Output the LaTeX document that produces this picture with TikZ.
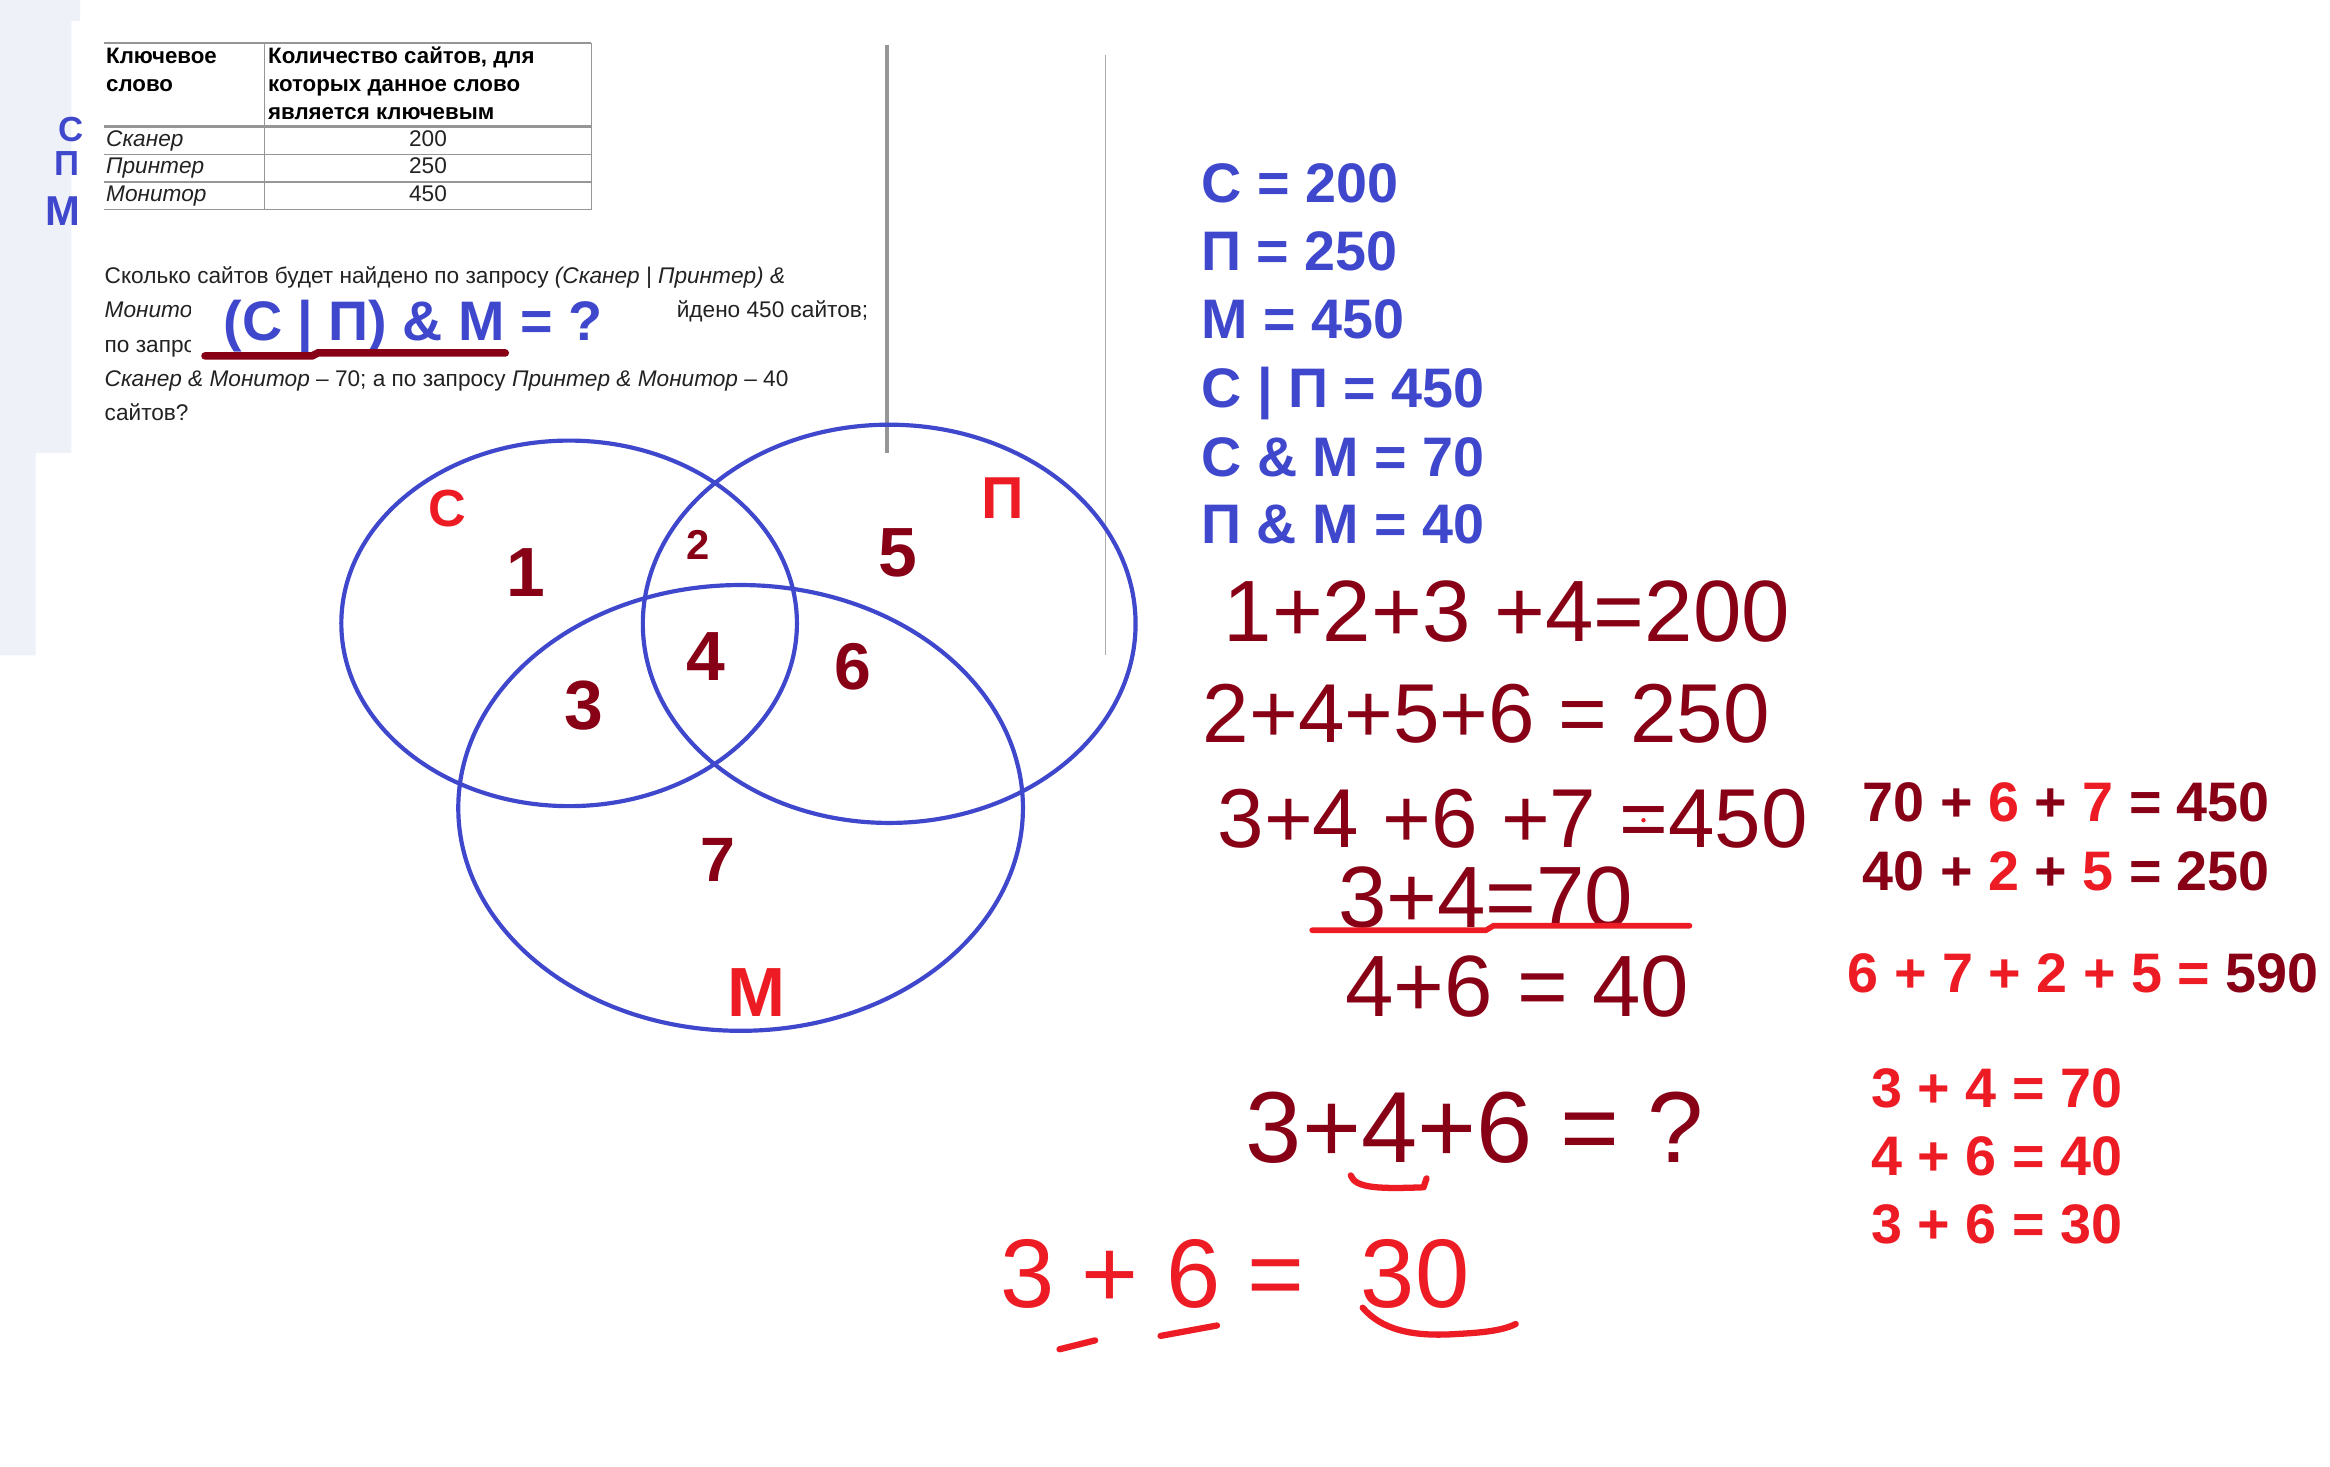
\documentclass[tikz,border=0pt]{standalone}
\usepackage{fontspec}
\setmainfont{Liberation Sans}
\newcommand{\fsz}[1]{\fontsize{#1}{#1}\selectfont}
\definecolor{indigo}{RGB}{63,72,204}
\definecolor{darkred}{RGB}{136,0,21}
\definecolor{brightred}{RGB}{237,28,36}
\definecolor{panel}{RGB}{238,241,247}
\definecolor{rule}{RGB}{150,150,150}
\definecolor{txt}{RGB}{34,34,34}

\begin{document}
\begin{tikzpicture}[x=0.015cm, y=-0.015cm,
  every node/.style={inner sep=0pt, anchor=base west},
  plain/.style={font=\fsz{6.5}, text=txt},
  head/.style={font=\fsz{6.4}\bfseries, text=black},
  calc/.style={font=\fsz{16}\bfseries},
  eqn/.style={font=\fsz{25}, text=darkred, text height=18pt, text depth=0pt},
  vnum/.style={anchor=center, font=\bfseries, text=darkred},
  venn/.style={indigo, line width=1.2pt},
  penline/.style={line width=1.8pt, line cap=round, line join=round}
]
\useasboundingbox (0,0) rectangle (1568,987);
\fill[white] (0,0) rectangle (1568,987);
\fill[panel] (0,0) -- (54,0) -- (54,14) -- (48,14) -- (48,305) -- (24,305) -- (24,441) -- (0,441) -- cycle;

% table
\draw[rule, line width=0.4pt] (70,29) -- (398,29) (70,104) -- (398,104) (70,122.5) -- (398,122.5)
  (70,141) -- (398,141) (178,29) -- (178,141) (398,29) -- (398,141);
\draw[rule, line width=0.9pt] (70,85) -- (398,85);
\node[head] (h1) at (71,43) {Ключевое};
\node[head] (h2) at (71,61.7) {слово};
\node[head] (h3) at (180,43) {Количество сайтов, для};
\node[head] (h4) at (180,61.7) {которых данное слово};
\node[head] (h5) at (180,80.4) {является ключевым};
\foreach \w/\n/\y [count=\i] in {Сканер/200/98.5, Принтер/250/117, Монитор/450/135.5} {
  \node[plain, font=\fsz{6.5}\itshape] (key\i) at (71,\y) {\w};
  \node[plain, anchor=base] (num\i) at (288,\y) {\n};
}

% question text
\node[plain] (q1) at (70,191) {Сколько сайтов будет найдено по запросу \textit{(Сканер | Принтер) \&}};
\begin{scope}
  \clip (60,196) rectangle (128,245);
  \node[plain] (q2) at (70,214) {\textit{Монитор}};
  \node[plain] (q3) at (70,237) {по запросу};
\end{scope}
\node[plain] (q4) at (455,214) {йдено 450 сайтов;};
\node[plain] (q5) at (70,260) {\textit{Сканер \& Монитор} – 70; а по запросу \textit{Принтер \& Монитор} – 40};
\node[plain] (q6) at (70,283) {сайтов?};
\node[calc, text=indigo] (query) at (150,229) {(С | П) \& М = ?};
\draw[darkred, line width=2.2pt, line cap=round] (138,239.5) -- (210,239.5) -- (214,237.5) -- (340,237.5);

% letters on the margin
\node[vnum, text=indigo, font=\fsz{10}\bfseries] (mc) at (48,87) {С};
\node[vnum, text=indigo, font=\fsz{10}\bfseries] (mp) at (45,110) {П};
\node[vnum, text=indigo, font=\fsz{12}\bfseries] (mm) at (42,142) {М};

% page rulers
\draw[rule, line width=0.95pt] (597,30) -- (597,305);
\draw[rule!80, line width=0.35pt] (744,37) -- (744,441);

% Venn diagram
\draw[venn] (383,419.5) ellipse [x radius=153.3, y radius=123];
\draw[venn] (598.4,419.8) ellipse [x radius=165.8, y radius=134];
\draw[venn] (498.4,543.7) ellipse [x radius=190, y radius=150];
\node[vnum, text=brightred, font=\fsz{15}\bfseries] (lc) at (301,342) {С};
\node[vnum, text=brightred, font=\fsz{17}\bfseries] (lp) at (675,335) {П};
\node[vnum, text=brightred, font=\fsz{20}\bfseries] (lm) at (509,668) {М};
\node[vnum, font=\fsz{20}\bfseries] (r1) at (354,385) {1};
\node[vnum, font=\fsz{12}\bfseries] (r2) at (470,367) {2};
\node[vnum, font=\fsz{20}\bfseries] (r3) at (393,475) {3};
\node[vnum, font=\fsz{20}\bfseries] (r4) at (475,442) {4};
\node[vnum, font=\fsz{20}\bfseries] (r5) at (604,372) {5};
\node[vnum, font=\fsz{19}\bfseries] (r6) at (574,449) {6};
\node[vnum, font=\fsz{18}\bfseries] (r7) at (483,579) {7};

% given values
\foreach \t/\y [count=\i] in {С = 200/136, П = 250/182, М = 450/228, С | П = 450/274.3, С \& М = 70/320.5, П \& М = 40/366} {
  \node[calc, text=indigo] (b\i) at (808,\y) {\t};
}

% equations
\node[eqn] (e1) at (823,432) {1+2+3 +4=200};
\node[eqn, font=\fsz{24}] (e2) at (809,500) {2+4+5+6 = 250};
\node[eqn, font=\fsz{24}] (e3) at (819,570) {3+4 +6 +7 =450};
\fill[brightred] (1106,552) circle [radius=1.5];
\node[eqn, font=\fsz{25}] (e4) at (900,624) {3+4=70};
\draw[brightred, line width=1.6pt, line cap=round] (883,626) -- (1000,626) -- (1005,623) -- (1137,623);
\node[eqn, font=\fsz{25}] (e5) at (905,684) {4+6 = 40};
\node[eqn, font=\fsz{29}] (e6) at (838,782) {3+4+6 = ?};
\draw[brightred, penline] (909,791) .. controls (912,800) and (930,800) .. (958,799) -- (960,793);
\node[eqn, font=\fsz{28}, text=brightred] (e7) at (673,880) {3 + 6 = \hspace{8.5pt}30};
\draw[brightred, penline] (713,908) -- (737,902);
\draw[brightred, penline] (781,899) -- (819,892);
\draw[brightred, penline] (917,880) .. controls (930,895) and (950,899) .. (975,898) .. controls (995,897) and (1010,896) .. (1020,891);

% sums
\node[calc, text=darkred] (s1) at (1253,553) {70 + \textcolor{brightred}{6} + \textcolor{brightred}{7} = 450};
\node[calc, text=darkred] (s2) at (1253,599) {40 + \textcolor{brightred}{2} + \textcolor{brightred}{5} = 250};
\node[calc, text=brightred] (s3) at (1243,668) {6 + 7 + 2 + 5 = \textcolor{darkred}{590}};
\node[calc, text=brightred] (t1) at (1259,745) {3 + 4 = 70};
\node[calc, text=brightred] (t2) at (1259,791) {4 + 6 = 40};
\node[calc, text=brightred] (t3) at (1259,837) {3 + 6 = 30};
\end{tikzpicture}
\end{document}
